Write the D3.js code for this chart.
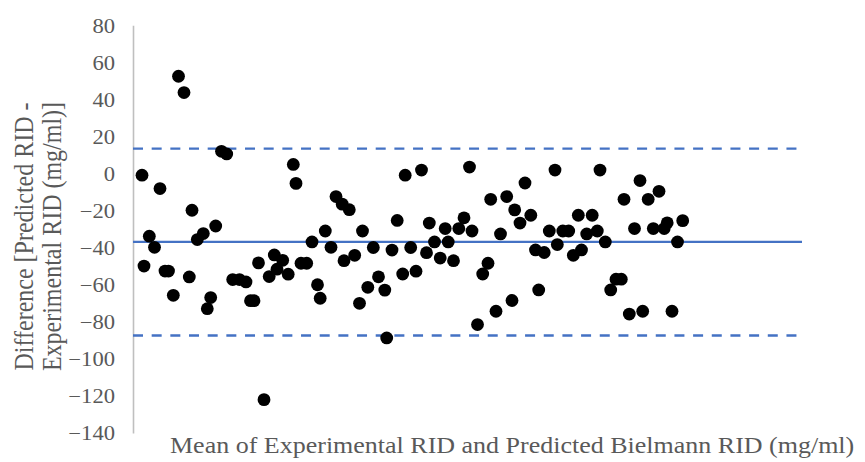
<!DOCTYPE html>
<html>
<head>
<meta charset="utf-8">
<script src="https://cdn.jsdelivr.net/npm/d3@7"></script>
<style>
  html, body { margin: 0; padding: 0; background: #fff; }
  svg { display: block; }
</style>
</head>
<body>
<svg id="chart" width="865" height="462"></svg>
<script>
// Mean of the two methods (arbitrary x units)
const meanValues = [9, 11, 16.3, 21.5, 27, 32, 35.5, 40.3, 45.5, 51, 56.3, 59, 64.3, 70.3, 74.3, 77.7, 82.7, 88.5, 93.7, 99.7,
  106.5, 113, 117.5, 121, 125.5, 131, 136.2, 141.3, 144, 149.7, 155.2, 160.3, 163, 168, 173.7, 179, 184.5, 187.2, 192.3, 198,
  203, 209.2, 216.3, 211, 221.7, 226.5, 229.5, 234.8, 240.3, 245.5, 251.8, 253.7, 259, 264.2, 269.7, 272.2, 277.7, 283, 288.5, 293.5,
  296.3, 301.5, 307.2, 312.2, 315.2, 320.5, 325.8, 331, 336.5, 339, 344.5, 349.7, 355, 357.7, 363, 367.5, 373.7, 379, 381.7, 387,
  392, 397.8, 402.5, 405.7, 411.2, 416.3, 422, 424.3, 429.8, 435.7, 440.3, 445.3, 448.5, 453.7, 459.2, 464.3, 467, 472.3, 477.7, 483,
  488.3, 491, 496.3, 501.5, 507, 509.7, 515.2, 520.3, 526, 531.2, 534.2, 539, 544.5, 549.7];
// Difference (Predicted - Experimental), mg/ml
const diffValues = [-0.9, -49.9, -33.8, -39.8, -8.1, -52.6, -52.6, -65.7, 52.5, 43.7, -55.8, -19.8, -35.6, -32.4, -72.9, -66.9, -28.3, 12.0, 10.6, -57.2,
  -57.2, -58.5, -68.6, -68.6, -48.2, -122.0, -55.6, -43.9, -51.6, -46.8, -54.3, 4.9, -5.3, -48.4, -48.4, -36.9, -60.0, -67.3, -31.0, -39.8,
  -12.4, -16.5, -19.5, -47.0, -44.1, -70.0, -31.0, -61.4, -39.9, -55.7, -62.9, -88.7, -41.3, -25.3, -54.2, -0.9, -39.9, -52.7, 1.9, -42.7,
  -26.7, -36.9, -45.6, -29.7, -36.9, -47.0, -29.7, -23.9, 3.5, -31.0, -81.5, -54.2, -48.4, -13.9, -74.3, -32.6, -12.4, -68.5, -19.6, -26.7,
  -5.1, -22.5, -41.2, -62.8, -42.6, -31.0, 1.9, -38.3, -31.0, -31.0, -44.1, -22.5, -41.2, -32.6, -22.5, -31.0, 1.9, -36.9, -62.8, -57.0,
  -57.0, -13.9, -75.8, -29.7, -3.8, -74.3, -13.9, -29.7, -9.6, -29.7, -26.6, -74.3, -36.9, -25.4];
const yTicks = [80, 60, 40, 20, 0, -20, -40, -60, -80, -100, -120, -140];
const meanDiff = -36.9;
const upperLoA = 13.5;
const lowerLoA = -87.4;
const xTitle = "Mean of Experimental RID and Predicted Bielmann RID (mg/ml)";
const yTitleLines = ["Difference [Predicted RID -", "Experimental RID (mg/ml)]"];

const FONT = '"Liberation Serif", "Times New Roman", serif';
const TEXT_COLOR = "#595959";
const STRETCH = 1.13; // horizontal glyph stretch seen in the reference

const svg = d3.select("#chart");
const x = d3.scaleLinear().domain([0, 669]).range([133, 802]);
const y = d3.scaleLinear().domain([-140, 80]).range([433, 25.3]);

// y axis (line + labels, no tick marks)
const yAxis = d3.axisLeft(y).tickValues(yTicks).tickSize(0).tickPadding(18).tickFormat(d3.format("d"));
const gy = svg.append("g").attr("transform", `translate(${x(0)},0)`).call(yAxis)
  .attr("font-family", FONT).attr("font-size", 20);
gy.select(".domain").attr("stroke", "#bfbfbf").attr("stroke-width", 1.6);
gy.selectAll("text").attr("fill", TEXT_COLOR).attr("dy", "0.34em")
  .each(function () {
    const len = this.getComputedTextLength();
    d3.select(this).attr("textLength", len * STRETCH).attr("lengthAdjust", "spacingAndGlyphs");
  });

// limit and mean lines
const lines = [
  { v: upperLoA, dash: "10,8.67" },
  { v: meanDiff, dash: null },
  { v: lowerLoA, dash: "10,8.67" }
];
svg.selectAll("line.ref").data(lines).join("line")
  .attr("class", "ref")
  .attr("x1", x(0)).attr("x2", x(669))
  .attr("y1", d => y(d.v)).attr("y2", d => y(d.v))
  .attr("stroke", "#4472c4").attr("stroke-width", 2.3)
  .attr("stroke-dasharray", d => d.dash);

// points
const pts = meanValues.map((m, i) => ({ m, d: diffValues[i] }));
svg.selectAll("circle.pt").data(pts).join("circle")
  .attr("class", "pt")
  .attr("cx", d => x(d.m)).attr("cy", d => y(d.d)).attr("r", 6.4)
  .attr("fill", "#000");

// x title
const xt = svg.append("text").attr("x", 170).attr("y", 453).attr("text-anchor", "start")
  .attr("font-family", FONT).attr("font-size", 23).attr("fill", TEXT_COLOR).text(xTitle);
xt.attr("textLength", xt.node().getComputedTextLength() * STRETCH).attr("lengthAdjust", "spacingAndGlyphs");

// y title (rotated, glyph height stretched horizontally)
const yt = svg.append("text").attr("transform", `translate(0,236.5) scale(${STRETCH},1) rotate(-90)`)
  .attr("text-anchor", "middle").attr("font-family", FONT).attr("font-size", 24).attr("fill", TEXT_COLOR);
yt.selectAll("tspan").data(yTitleLines).join("tspan")
  .attr("x", 0).attr("y", (d, i) => 29.3 + i * 25).text(d => d);
</script>
</body>
</html>
